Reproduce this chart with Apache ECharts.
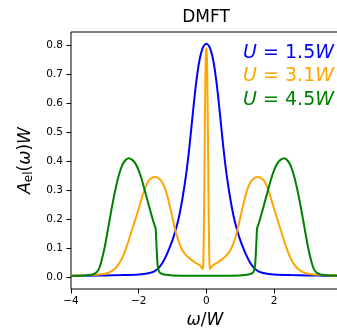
<!DOCTYPE html>
<html>
<head>
<meta charset="utf-8">
<script src="https://cdn.jsdelivr.net/npm/echarts@6/dist/echarts.min.js"></script>
<style>
html,body{margin:0;padding:0;background:#fff;}
#c{width:337px;height:329px;}
</style>
</head>
<body>
<div id="c"></div>
<script>
// ---- data ----
const xTicks = [-4, -2, 0, 2];
const yTicks = [0.0, 0.1, 0.2, 0.3, 0.4, 0.5, 0.6, 0.7, 0.8];

const blueW = [-4,-3.5,-3,-2.5,-2,-1.8,-1.6,-1.5,-1.4,-1.3,-1.2,-1.1,-1,-0.9,-0.8,-0.7,-0.6,-0.5,-0.4,-0.3,-0.2,-0.1,0,
               0.1,0.2,0.3,0.4,0.5,0.6,0.7,0.8,0.9,1,1.1,1.2,1.3,1.4,1.5,1.6,1.8,2,2.5,3,3.5,4];
const blueA = [0.003,0.004,0.005,0.006,0.008,0.011,0.016,0.022,0.032,0.048,0.07,0.097,0.127,0.165,0.212,0.275,0.352,0.45,0.565,0.672,0.75,0.793,0.805,
               0.793,0.75,0.672,0.565,0.45,0.352,0.275,0.212,0.165,0.127,0.097,0.07,0.048,0.032,0.022,0.016,0.011,0.008,0.006,0.005,0.004,0.003];

const orangeW = [-4,-3.6,-3.3,-3.1,-3.0,-2.9,-2.8,-2.7,-2.6,-2.5,-2.4,-2.3,-2.2,-2.1,-2.0,-1.9,-1.8,-1.7,-1.6,-1.5,-1.4,-1.3,-1.2,-1.1,-1.0,-0.9,-0.8,-0.7,-0.6,-0.5,-0.4,-0.3,-0.2,-0.15,-0.11,-0.09,-0.07,-0.05,-0.03,-0.015,0,
                 0.015,0.03,0.05,0.07,0.09,0.11,0.15,0.2,0.3,0.4,0.5,0.6,0.7,0.8,0.9,1.0,1.1,1.2,1.3,1.4,1.5,1.6,1.7,1.8,1.9,2.0,2.1,2.2,2.3,2.4,2.5,2.6,2.7,2.8,2.9,3.0,3.1,3.3,3.6,4];
const orangeA = [0.004,0.005,0.007,0.009,0.011,0.014,0.02,0.028,0.042,0.062,0.09,0.124,0.162,0.198,0.235,0.275,0.31,0.333,0.343,0.345,0.34,0.326,0.298,0.254,0.203,0.153,0.116,0.09,0.075,0.064,0.055,0.047,0.04,0.034,0.027,0.05,0.2,0.45,0.68,0.77,0.79,
                 0.77,0.68,0.45,0.2,0.05,0.027,0.034,0.04,0.047,0.055,0.064,0.075,0.09,0.116,0.153,0.203,0.254,0.298,0.326,0.34,0.345,0.343,0.333,0.31,0.275,0.235,0.198,0.162,0.124,0.09,0.062,0.042,0.028,0.02,0.014,0.011,0.009,0.007,0.005,0.004];

const greenW = [-4,-3.6,-3.4,-3.3,-3.2,-3.15,-3.1,-3.0,-2.9,-2.8,-2.7,-2.6,-2.5,-2.4,-2.3,-2.2,-2.1,-2.0,-1.9,-1.8,-1.7,-1.6,-1.55,-1.5,-1.48,-1.46,-1.44,-1.41,-1.37,-1.3,-1.2,-1.0,-0.5,0,
                0.5,1.0,1.2,1.3,1.37,1.41,1.44,1.46,1.48,1.5,1.55,1.6,1.7,1.8,1.9,2.0,2.1,2.2,2.3,2.4,2.5,2.6,2.7,2.8,2.9,3.0,3.1,3.15,3.2,3.3,3.4,3.6,4];
const greenA = [0.004,0.005,0.007,0.011,0.022,0.035,0.055,0.105,0.17,0.235,0.295,0.345,0.382,0.402,0.41,0.405,0.392,0.368,0.333,0.29,0.247,0.205,0.185,0.168,0.125,0.075,0.04,0.022,0.014,0.01,0.007,0.005,0.004,0.004,
                0.004,0.005,0.007,0.01,0.014,0.022,0.04,0.075,0.125,0.168,0.185,0.205,0.247,0.29,0.333,0.368,0.392,0.405,0.41,0.402,0.382,0.345,0.295,0.235,0.17,0.105,0.055,0.035,0.022,0.011,0.007,0.005,0.004];

const seriesNames = ['1.5', '3.1', '4.5'];
const seriesColors = ['#0000ff', '#ffa500', '#008000'];

// ---- chart ----
const FONT = 'DejaVu Sans';
const pairs = (xs, ys) => xs.map((x, i) => [x, ys[i]]);
const fmtMinus = v => String(v).replace('-', '\u2212');

const chart = echarts.init(document.getElementById('c'), null, {renderer: 'canvas'});

const lineSeries = [[blueW, blueA, 0.3], [orangeW, orangeA, 0.2], [greenW, greenA, 0.2]].map((d, k) => ({
  type: 'line',
  data: pairs(d[0], d[1]),
  showSymbol: false,
  smooth: d[2],
  lineStyle: {color: seriesColors[k], width: 2},
  itemStyle: {color: seriesColors[k]},
  z: 2 + k,
  animation: false,
  clip: true
}));

const legendGraphics = seriesNames.map((n, k) => ({
  type: 'text',
  z: 100,
  style: {
    x: 334, y: 53 + k * 23.5,
    align: 'right', verticalAlign: 'middle',
    text: '{i|U} = ' + n + '{i|W}',
    font: '19px "' + FONT + '"',
    fill: seriesColors[k],
    rich: {
      i: {fontStyle: 'italic', fontFamily: FONT, fontSize: 19, fill: seriesColors[k]}
    }
  }
}));

chart.setOption({
  animation: false,
  backgroundColor: '#fff',
  grid: {left: 71, right: -2, top: 32, bottom: 40, show: true, borderColor: '#000', borderWidth: 1,
         backgroundColor: 'transparent', containLabel: false, outerBoundsMode: 'none'},
  xAxis: {
    type: 'value', min: -4, max: 3.92,
    name: '{i|ω}/{i|W}',
    nameLocation: 'middle', nameGap: 23,
    nameTextStyle: {fontFamily: FONT, fontSize: 17, color: '#000',
      rich: {i: {fontStyle: 'italic', fontFamily: FONT, fontSize: 17, color: '#000'}}},
    splitLine: {show: false},
    axisLine: {show: false, onZero: false},
    axisTick: {show: true, length: 4.5, lineStyle: {color: '#000', width: 1}, customValues: xTicks},
    axisLabel: {customValues: xTicks, formatter: v => fmtMinus(v), fontFamily: FONT, fontSize: 10.5, color: '#000', margin: 7}
  },
  yAxis: {
    type: 'value', min: -0.042, max: 0.846,
    name: '{i|A}{s|el}({i|ω}){i|W}',
    nameLocation: 'middle', nameGap: 36, nameRotate: 90,
    nameTextStyle: {fontFamily: FONT, fontSize: 17, color: '#000',
      rich: {
        i: {fontStyle: 'italic', fontFamily: FONT, fontSize: 17, color: '#000'},
        s: {fontFamily: FONT, fontSize: 12, color: '#000', padding: [7, 0, 0, 0]}
      }},
    splitLine: {show: false},
    axisLine: {show: false, onZero: false},
    axisTick: {show: true, length: 4.5, lineStyle: {color: '#000', width: 1}, customValues: yTicks},
    axisLabel: {customValues: yTicks, formatter: v => v.toFixed(1), fontFamily: FONT, fontSize: 10.5, color: '#000', margin: 8}
  },
  graphic: [
    {type: 'text', z: 100, style: {x: 206, y: 18, align: 'center', verticalAlign: 'middle', text: 'DMFT', font: '17px "' + FONT + '"', fill: '#000'}}
  ].concat(legendGraphics),
  series: lineSeries
});
</script>
</body>
</html>
